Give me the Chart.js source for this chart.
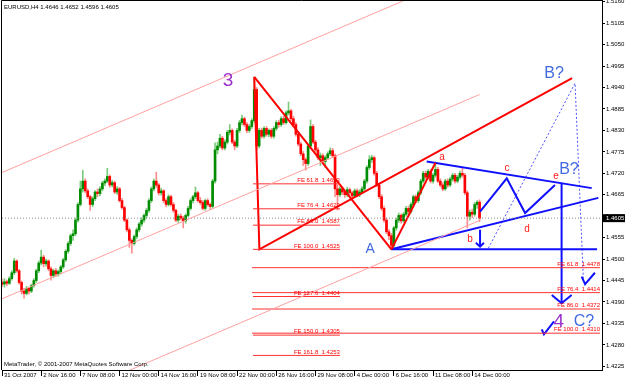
<!DOCTYPE html>
<html>
<head>
<meta charset="utf-8">
<script src="https://cdn.jsdelivr.net/npm/chart.js@4.4.0/dist/chart.umd.min.js"></script>
<style>
  html, body { margin: 0; padding: 0; background: #fff; }
  canvas { display: block; }
</style>
</head>
<body>
<canvas id="chart" width="625" height="380"></canvas>
<script>
// ---- DATA ----
const symbolName = 'EURUSD,H4';
const copyright = 'MetaTrader, \u00a9 2001-2007 MetaQuotes Software Corp.';

// bar index of each time label, one label every 16 H4 bars
const xTickPos = [0, 16, 32, 48, 64, 80, 96, 112, 128, 144, 160, 176, 192];
const xTickLabels = ['31 Oct 2007', '2 Nov 16:00', '7 Nov 08:00', '12 Nov 00:00', '14 Nov 16:00',
  '19 Nov 08:00', '22 Nov 00:00', '26 Nov 16:00', '29 Nov 08:00', '4 Dec 00:00',
  '6 Dec 16:00', '11 Dec 08:00', '14 Dec 00:00'];
const yTicks = [1.5160, 1.5105, 1.5050, 1.4995, 1.4940, 1.4885, 1.4830, 1.4775, 1.4720,
  1.4665, 1.4610, 1.4555, 1.4500, 1.4445, 1.4390, 1.4335, 1.4280, 1.4225];
const yMin = 1.42156;
const yMax = 1.51644;

// candles: [open, high, low, close] in points above 1.4000
const candles = [
  [4440,4448,4430,4436],[4436,4450,4428,4442],[4442,4446,4432,4438],[4438,4455,4435,4450],
  [4450,4470,4446,4465],[4465,4502,4460,4495],[4495,4498,4466,4470],[4470,4474,4436,4440],
  [4440,4444,4410,4418],[4418,4425,4400,4412],[4412,4430,4408,4425],[4425,4428,4410,4418],
  [4418,4436,4414,4432],[4432,4450,4428,4445],[4445,4474,4440,4470],[4470,4495,4465,4490],
  [4490,4523,4485,4505],[4505,4510,4480,4488],[4488,4500,4482,4495],[4495,4498,4470,4475],
  [4475,4480,4446,4458],[4458,4474,4452,4470],[4470,4476,4455,4462],[4462,4472,4456,4468],
  [4468,4484,4462,4480],[4480,4502,4476,4498],[4498,4524,4494,4520],[4520,4545,4515,4540],
  [4540,4564,4535,4560],[4560,4575,4548,4565],[4565,4605,4560,4600],[4600,4645,4595,4640],
  [4640,4700,4636,4680],[4680,4728,4672,4700],[4700,4706,4670,4675],[4675,4680,4655,4660],
  [4660,4664,4625,4640],[4640,4660,4634,4655],[4655,4676,4650,4672],[4672,4680,4660,4668],
  [4668,4686,4662,4680],[4680,4700,4675,4695],[4695,4706,4688,4700],[4700,4733,4696,4712],
  [4712,4716,4684,4690],[4690,4702,4685,4696],[4696,4700,4668,4672],[4672,4686,4666,4680],
  [4680,4684,4646,4650],[4650,4656,4628,4632],[4632,4636,4596,4600],[4600,4604,4570,4575],
  [4575,4580,4530,4548],[4548,4552,4515,4540],[4540,4562,4536,4558],[4558,4580,4552,4575],
  [4575,4594,4570,4590],[4590,4606,4584,4600],[4600,4616,4594,4612],[4612,4630,4606,4625],
  [4625,4655,4620,4650],[4650,4685,4645,4680],[4680,4705,4675,4700],[4700,4723,4684,4690],
  [4690,4694,4664,4670],[4670,4682,4664,4675],[4675,4678,4645,4650],[4650,4655,4634,4640],
  [4640,4665,4636,4660],[4660,4664,4636,4640],[4640,4645,4620,4625],[4625,4628,4596,4600],
  [4600,4615,4594,4610],[4610,4616,4600,4605],[4605,4610,4580,4598],[4598,4616,4592,4612],
  [4612,4635,4608,4630],[4630,4655,4626,4650],[4650,4664,4644,4660],[4660,4685,4655,4670],
  [4670,4674,4646,4650],[4650,4658,4640,4645],[4645,4650,4626,4630],[4630,4654,4625,4650],
  [4650,4655,4636,4640],[4640,4644,4628,4635],[4635,4705,4630,4700],[4700,4798,4695,4780],
  [4780,4800,4770,4790],[4790,4820,4785,4810],[4810,4815,4780,4785],[4785,4806,4780,4800],
  [4800,4830,4795,4825],[4825,4845,4818,4830],[4830,4834,4796,4800],[4800,4805,4780,4790],
  [4790,4835,4786,4830],[4830,4856,4825,4850],[4850,4869,4844,4860],[4860,4864,4840,4845],
  [4845,4850,4824,4830],[4830,4845,4825,4840],[4840,4860,4835,4855],[4855,4967,4850,4935],
  [4935,4940,4780,4790],[4790,4835,4785,4830],[4830,4836,4810,4815],[4815,4840,4810,4835],
  [4835,4840,4815,4820],[4820,4834,4814,4830],[4830,4835,4810,4815],[4815,4840,4810,4835],
  [4835,4855,4830,4850],[4850,4856,4838,4845],[4845,4865,4840,4860],[4860,4866,4845,4850],
  [4850,4880,4846,4875],[4875,4903,4870,4880],[4880,4884,4855,4860],[4860,4866,4840,4845],
  [4845,4850,4815,4820],[4820,4824,4790,4795],[4795,4800,4765,4770],[4770,4776,4740,4755],
  [4755,4760,4728,4745],[4745,4795,4740,4790],[4790,4857,4785,4840],[4840,4845,4796,4800],
  [4800,4805,4775,4780],[4780,4786,4755,4760],[4760,4772,4740,4765],[4765,4770,4745,4750],
  [4750,4765,4735,4760],[4760,4775,4755,4770],[4770,4785,4765,4778],[4778,4784,4760,4765],
  [4765,4770,4660,4680],[4680,4690,4626,4665],[4665,4686,4660,4680],[4680,4685,4665,4672],
  [4672,4676,4658,4665],[4665,4684,4660,4678],[4678,4682,4664,4670],[4670,4674,4655,4662],
  [4662,4680,4658,4675],[4675,4680,4660,4665],[4665,4678,4660,4672],[4672,4686,4668,4680],
  [4680,4705,4676,4700],[4700,4740,4695,4735],[4735,4765,4730,4755],[4755,4766,4748,4760],
  [4760,4764,4715,4720],[4720,4725,4686,4690],[4690,4695,4655,4660],[4660,4665,4625,4630],
  [4630,4636,4595,4600],[4600,4605,4565,4570],[4570,4576,4550,4560],[4560,4566,4525,4535],
  [4535,4584,4530,4580],[4580,4605,4574,4600],[4600,4618,4594,4612],[4612,4616,4592,4598],
  [4598,4620,4594,4615],[4615,4635,4610,4630],[4630,4636,4615,4622],[4622,4645,4618,4640],
  [4640,4664,4636,4660],[4660,4665,4644,4650],[4650,4675,4645,4670],[4670,4705,4665,4700],
  [4700,4725,4695,4720],[4720,4726,4705,4710],[4710,4730,4705,4725],[4725,4730,4695,4700],
  [4700,4720,4695,4715],[4715,4749,4710,4730],[4730,4735,4696,4700],[4700,4706,4685,4690],
  [4690,4696,4675,4680],[4680,4705,4676,4700],[4700,4706,4684,4690],[4690,4710,4686,4705],
  [4705,4720,4700,4715],[4715,4720,4695,4700],[4700,4715,4696,4710],[4710,4726,4705,4720],
  [4720,4733,4710,4715],[4715,4720,4665,4670],[4670,4675,4580,4610],[4610,4626,4600,4620],
  [4620,4628,4606,4615],[4615,4645,4610,4640],[4640,4650,4630,4646],[4646,4652,4596,4605]
];

// drawn objects, points are [bar index, price]
const channelUpper = [[0, 1.4722], [195, 1.5246]];
const channelMid = [[0, 1.4398], [195, 1.4922]];
const channelLow = [[0, 1.4075], [195, 1.4599]];
const waveDown = [[103, 1.4967], [159, 1.4525]];
const waveFan = [[103, 1.4967], [105.1, 1.4525], [232.8, 1.4964]];
const waveUp = [[159, 1.4525], [177, 1.4747]];
const triUpper = [[173.4, 1.4750], [240.8, 1.4682]];
const triLower = [[159, 1.4525], [243.5, 1.4657]];
const triBase = [[159, 1.4525], [243, 1.4525]];
const zigzag = [[195.2, 1.4622], [206.1, 1.4707], [213.6, 1.4618], [225.8, 1.4690]];
const smallArrow = [[195.2, 1.4575], [195.2, 1.4532]];
const smallHead = [[193.5, 1.4542], [195.2, 1.4532], [196.8, 1.4542]];
const bigArrow = [[228.5, 1.4696], [228.5, 1.4387]];
const bigHead = [[224.5, 1.4408], [228.5, 1.4387], [232.6, 1.4408]];
const check1 = [[236.7, 1.4455], [238.1, 1.4436], [242.1, 1.4465]];
const check2 = [[220.4, 1.4320], [221.3, 1.4307], [225.4, 1.4340]];
const dottedPath = [[198.6, 1.4528], [234, 1.4951], [237.4, 1.4446]];

// fibonacci expansion levels
const feLeftLevels = [61.8, 76.4, 86.0, 100.0, 127.6, 150.0, 161.8];
const feLeftPrices = [1.4693, 1.4629, 1.4587, 1.4525, 1.4404, 1.4305, 1.4253];
const feLeftSpan = [102.5, 138];
const feRightLevels = [61.8, 76.4, 86.0, 100.0];
const feRightPrices = [1.4478, 1.4414, 1.4372, 1.4310];
const feRightSpan = [102.1, 244.2];

// wave labels [text, bar index, price]
const purpleLabels = [['3', 92.3, 1.4957], ['4', 227.4, 1.4339]];
const blueLabels = [['A', 150.3, 1.4525], ['B?', 225.4, 1.4975], ['B?', 231.5, 1.4729], ['C?', 237.6, 1.4341]];
const redLabels = [['a', 179.7, 1.4762], ['b', 191.1, 1.4552], ['c', 206.2, 1.4734], ['d', 214.4, 1.4577], ['e', 226.2, 1.4713]];

// ---- HELPERS ----
const px = v => 1 + v / 10000;
const FONT = '"Liberation Sans", Arial, sans-serif';
const last = candles[candles.length - 1];
const lastClose = px(last[3]);

function seg(points, color, width, dash) {
  return {
    type: 'line',
    data: points.map(p => ({ x: p[0], y: p[1] })),
    borderColor: color,
    borderWidth: width,
    borderDash: dash || [],
    pointRadius: 0,
    fill: false,
    tension: 0,
    order: 0
  };
}

const up = candles.map(c => c[3] >= c[0]);

const datasets = [];

// objects
[channelUpper, channelMid, channelLow].forEach(l => datasets.push(seg(l, '#ffa0a0', 1)));
datasets.push(seg([[0, lastClose], [245, lastClose]], '#8c8c8c', 1, [1, 2]));
feLeftPrices.forEach(p => datasets.push(seg([[feLeftSpan[0], p], [feLeftSpan[1], p]], '#ff3030', 1)));
feRightPrices.forEach(p => datasets.push(seg([[feRightSpan[0], p], [feRightSpan[1], p]], '#ff3030', 1)));
[waveDown, waveFan, waveUp].forEach(l => datasets.push(seg(l, '#ff0000', 2)));
[triUpper, triLower, triBase, zigzag, smallArrow, smallHead, bigArrow, bigHead, check1, check2]
  .forEach(l => datasets.push(seg(l, '#1010ff', 2)));
datasets.push(seg(dottedPath, '#5050ff', 1, [2, 2]));

// candles
datasets.push({
  type: 'bar',
  data: candles.map((c, i) => ({ x: i, y: [px(c[0]), px(c[3])] })),
  backgroundColor: up.map(u => u ? '#008c00' : '#ff0000'),
  barThickness: 2,
  minBarLength: 1,
  grouped: false,
  order: 11
});
datasets.push({
  type: 'bar',
  data: candles.map((c, i) => ({ x: i, y: [px(c[2]), px(c[1])] })),
  backgroundColor: up.map(u => u ? '#7ccc7c' : '#ff8c8c'),
  barThickness: 1,
  grouped: false,
  order: 12
});

// ---- OVERLAY: texts, labels, frame ----
const overlay = {
  id: 'overlay',
  afterDatasetsDraw(chart) {
    const { ctx, chartArea: a, scales: { x, y } } = chart;
    ctx.save();
    ctx.beginPath();
    ctx.rect(a.left, a.top, a.right - a.left, a.bottom - a.top);
    ctx.clip();

    // fibo texts
    ctx.font = '6px ' + FONT;
    ctx.fillStyle = '#ff0000';
    ctx.textAlign = 'right';
    ctx.textBaseline = 'bottom';
    const feText = (lv, p) => 'FE ' + lv.toFixed(1) + '  ' + p.toFixed(4);
    feLeftLevels.forEach((lv, k) => {
      ctx.fillText(feText(lv, feLeftPrices[k]), x.getPixelForValue(feLeftSpan[1]), y.getPixelForValue(feLeftPrices[k]) - 0.5);
    });
    feRightLevels.forEach((lv, k) => {
      ctx.fillText(feText(lv, feRightPrices[k]), x.getPixelForValue(feRightSpan[1]), y.getPixelForValue(feRightPrices[k]) - 0.5);
    });

    // wave labels
    ctx.textAlign = 'center';
    ctx.textBaseline = 'middle';
    const put = (list, color, size) => {
      ctx.fillStyle = color;
      ctx.font = size + 'px ' + FONT;
      list.forEach(l => ctx.fillText(l[0], x.getPixelForValue(l[1]), y.getPixelForValue(l[2])));
    };
    put(purpleLabels, '#9932cc', 19);
    put(blueLabels.slice(0, 1), '#4169e1', 14);
    put(blueLabels.slice(1), '#4169e1', 16);
    put(redLabels, '#ff1a1a', 10);

    // header and footer
    ctx.fillStyle = '#000';
    ctx.font = '6px ' + FONT;
    ctx.textAlign = 'left';
    ctx.fillText(symbolName + ' ' + last.map(v => px(v).toFixed(4)).join(' '), a.left + 2, a.top + 7);
    ctx.fillText(copyright, a.left + 2, a.bottom - 6);
    ctx.restore();
  },
  afterDraw(chart) {
    const { ctx, chartArea: a, scales: { y } } = chart;
    ctx.save();
    ctx.strokeStyle = '#000';
    ctx.lineWidth = 1;
    ctx.beginPath();
    ctx.moveTo(a.left - 0.5, a.bottom);
    ctx.lineTo(a.left - 0.5, a.top + 0.5);
    ctx.lineTo(a.right, a.top + 0.5);
    ctx.stroke();
    // current price box
    const yp = y.getPixelForValue(lastClose);
    ctx.fillStyle = '#000';
    ctx.fillRect(a.right + 1, yp - 4, 625 - a.right - 1, 8);
    ctx.fillStyle = '#fff';
    ctx.font = '6px ' + FONT;
    ctx.textAlign = 'left';
    ctx.textBaseline = 'middle';
    ctx.fillText(lastClose.toFixed(4), a.right + 4, yp);
    ctx.restore();
  }
};

const tickFont = { family: FONT, size: 6 };

new Chart(document.getElementById('chart'), {
  type: 'bar',
  data: { datasets },
  options: {
    responsive: false,
    animation: false,
    events: [],
    layout: { padding: { left: 2, top: 0, right: 0, bottom: 0 } },
    plugins: { legend: { display: false }, tooltip: { enabled: false } },
    scales: {
      x: {
        type: 'linear',
        min: 0,
        max: 245,
        offset: false,
        grid: { drawOnChartArea: false, offset: false, tickLength: 6, color: '#000' },
        border: { color: '#000' },
        afterBuildTicks: ax => { ax.ticks = xTickPos.map(v => ({ value: v })); },
        afterFit: ax => { ax.height = 10; ax.paddingLeft = 0; ax.paddingRight = 0; },
        ticks: {
          autoSkip: false,
          maxRotation: 0,
          align: 'start',
          labelOffset: 2,
          padding: -4,
          color: '#000',
          font: tickFont,
          callback: v => xTickLabels[xTickPos.indexOf(v)]
        }
      },
      y: {
        position: 'right',
        min: yMin,
        max: yMax,
        grid: { drawOnChartArea: false, tickLength: 3, color: '#000' },
        border: { color: '#000' },
        afterBuildTicks: ax => { ax.ticks = yTicks.map(v => ({ value: v })); },
        afterFit: ax => { ax.width = 23; ax.paddingTop = 0; ax.paddingBottom = 0; },
        ticks: { padding: 1, color: '#000', font: tickFont, callback: v => v.toFixed(4) }
      }
    }
  },
  plugins: [overlay]
});
</script>
</body>
</html>
